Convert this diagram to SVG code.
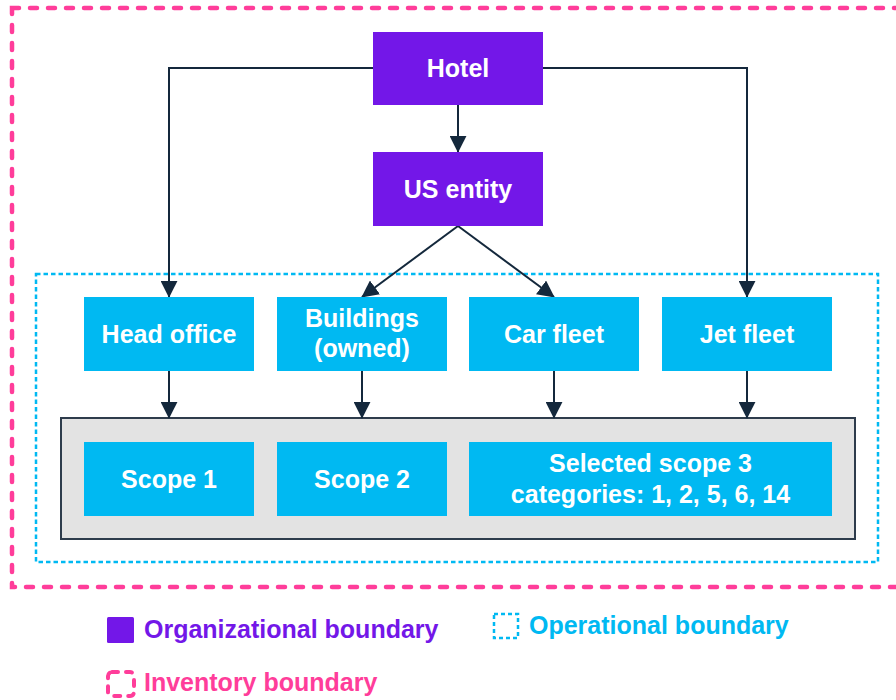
<svg xmlns="http://www.w3.org/2000/svg" width="896" height="700" viewBox="0 0 896 700">
<defs>
<style>
.org{fill:#7317E8;}
.op{fill:#00B9F2;}
.t{font-family:"Liberation Sans",Arial,sans-serif;font-weight:bold;font-size:25px;fill:#FFFFFF;text-anchor:middle;}
.lg{font-family:"Liberation Sans",Arial,sans-serif;font-weight:bold;font-size:25px;}
.conn{fill:none;stroke:#14283C;stroke-width:2;}
</style>
<marker id="arr" viewBox="0 0 10 10" markerWidth="17" markerHeight="17" markerUnits="userSpaceOnUse" refX="9.5" refY="5" orient="auto">
<path d="M0,0 L10,5 L0,10 z" fill="#14283C"/>
</marker>
</defs>
<rect width="896" height="700" fill="#FFFFFF"/>
<g id="inventory-boundary">
<rect x="12" y="8" width="900" height="579" fill="none" stroke="#FF3D9A" stroke-width="4.5" stroke-dasharray="7 11" stroke-linecap="round"/>
</g>
<g id="operational-boundary">
<rect x="36" y="274" width="842" height="288" fill="none" stroke="#00B9F2" stroke-width="2.5" stroke-dasharray="4.5 3"/>
</g>
<g id="scope-panel">
<rect x="61" y="418" width="794" height="121" fill="#E3E3E3" stroke="#2E3C4C" stroke-width="2"/>
</g>
<g id="connectors">
<path class="conn" d="M373,68 H169 V297" marker-end="url(#arr)"/>
<path class="conn" d="M543,68 H747 V297" marker-end="url(#arr)"/>
<path class="conn" d="M458,105 V152" marker-end="url(#arr)"/>
<path class="conn" d="M458,226 L362,297" marker-end="url(#arr)"/>
<path class="conn" d="M458,226 L554,297" marker-end="url(#arr)"/>
<path class="conn" d="M169,371 V418" marker-end="url(#arr)"/>
<path class="conn" d="M362,371 V418" marker-end="url(#arr)"/>
<path class="conn" d="M554,371 V418" marker-end="url(#arr)"/>
<path class="conn" d="M747,371 V418" marker-end="url(#arr)"/>
</g>
<g id="hotel">
<rect class="org" x="373" y="32" width="170" height="73"/>
<text class="t" x="458" y="76.5">Hotel</text>
</g>
<g id="us-entity">
<rect class="org" x="373" y="152" width="170" height="74"/>
<text class="t" x="458" y="197.5">US entity</text>
</g>
<g id="head-office">
<rect class="op" x="84" y="297" width="170" height="74"/>
<text class="t" x="169" y="342.5">Head office</text>
</g>
<g id="buildings">
<rect class="op" x="277" y="297" width="170" height="74"/>
<text class="t" x="362" y="327">Buildings</text>
<text class="t" x="362" y="357">(owned)</text>
</g>
<g id="car-fleet">
<rect class="op" x="469" y="297" width="170" height="74"/>
<text class="t" x="554" y="342.5">Car fleet</text>
</g>
<g id="jet-fleet">
<rect class="op" x="662" y="297" width="170" height="74"/>
<text class="t" x="747" y="342.5">Jet fleet</text>
</g>
<g id="scope-1">
<rect class="op" x="84" y="442" width="170" height="74"/>
<text class="t" x="169" y="487.5">Scope 1</text>
</g>
<g id="scope-2">
<rect class="op" x="277" y="442" width="170" height="74"/>
<text class="t" x="362" y="487.5">Scope 2</text>
</g>
<g id="scope-3">
<rect class="op" x="469" y="442" width="363" height="74"/>
<text class="t" x="650.5" y="471.5">Selected scope 3</text>
<text class="t" x="650.5" y="502.5">categories: 1, 2, 5, 6, 14</text>
</g>
<g id="legend">
<rect x="107" y="617" width="27" height="26" rx="1.5" fill="#7317E8"/>
<text class="lg" x="144" y="638" fill="#7317E8">Organizational boundary</text>
<rect x="494" y="614" width="24" height="24" fill="none" stroke="#00B9F2" stroke-width="2.5" stroke-dasharray="4 3"/>
<text class="lg" x="529" y="634" fill="#00B9F2">Operational boundary</text>
<rect x="108" y="672" width="26" height="24" rx="4" fill="none" stroke="#FF3D9A" stroke-width="4" stroke-dasharray="6 8" stroke-linecap="round"/>
<text class="lg" x="144" y="691" fill="#FF3D9A">Inventory boundary</text>
</g>
</svg>
